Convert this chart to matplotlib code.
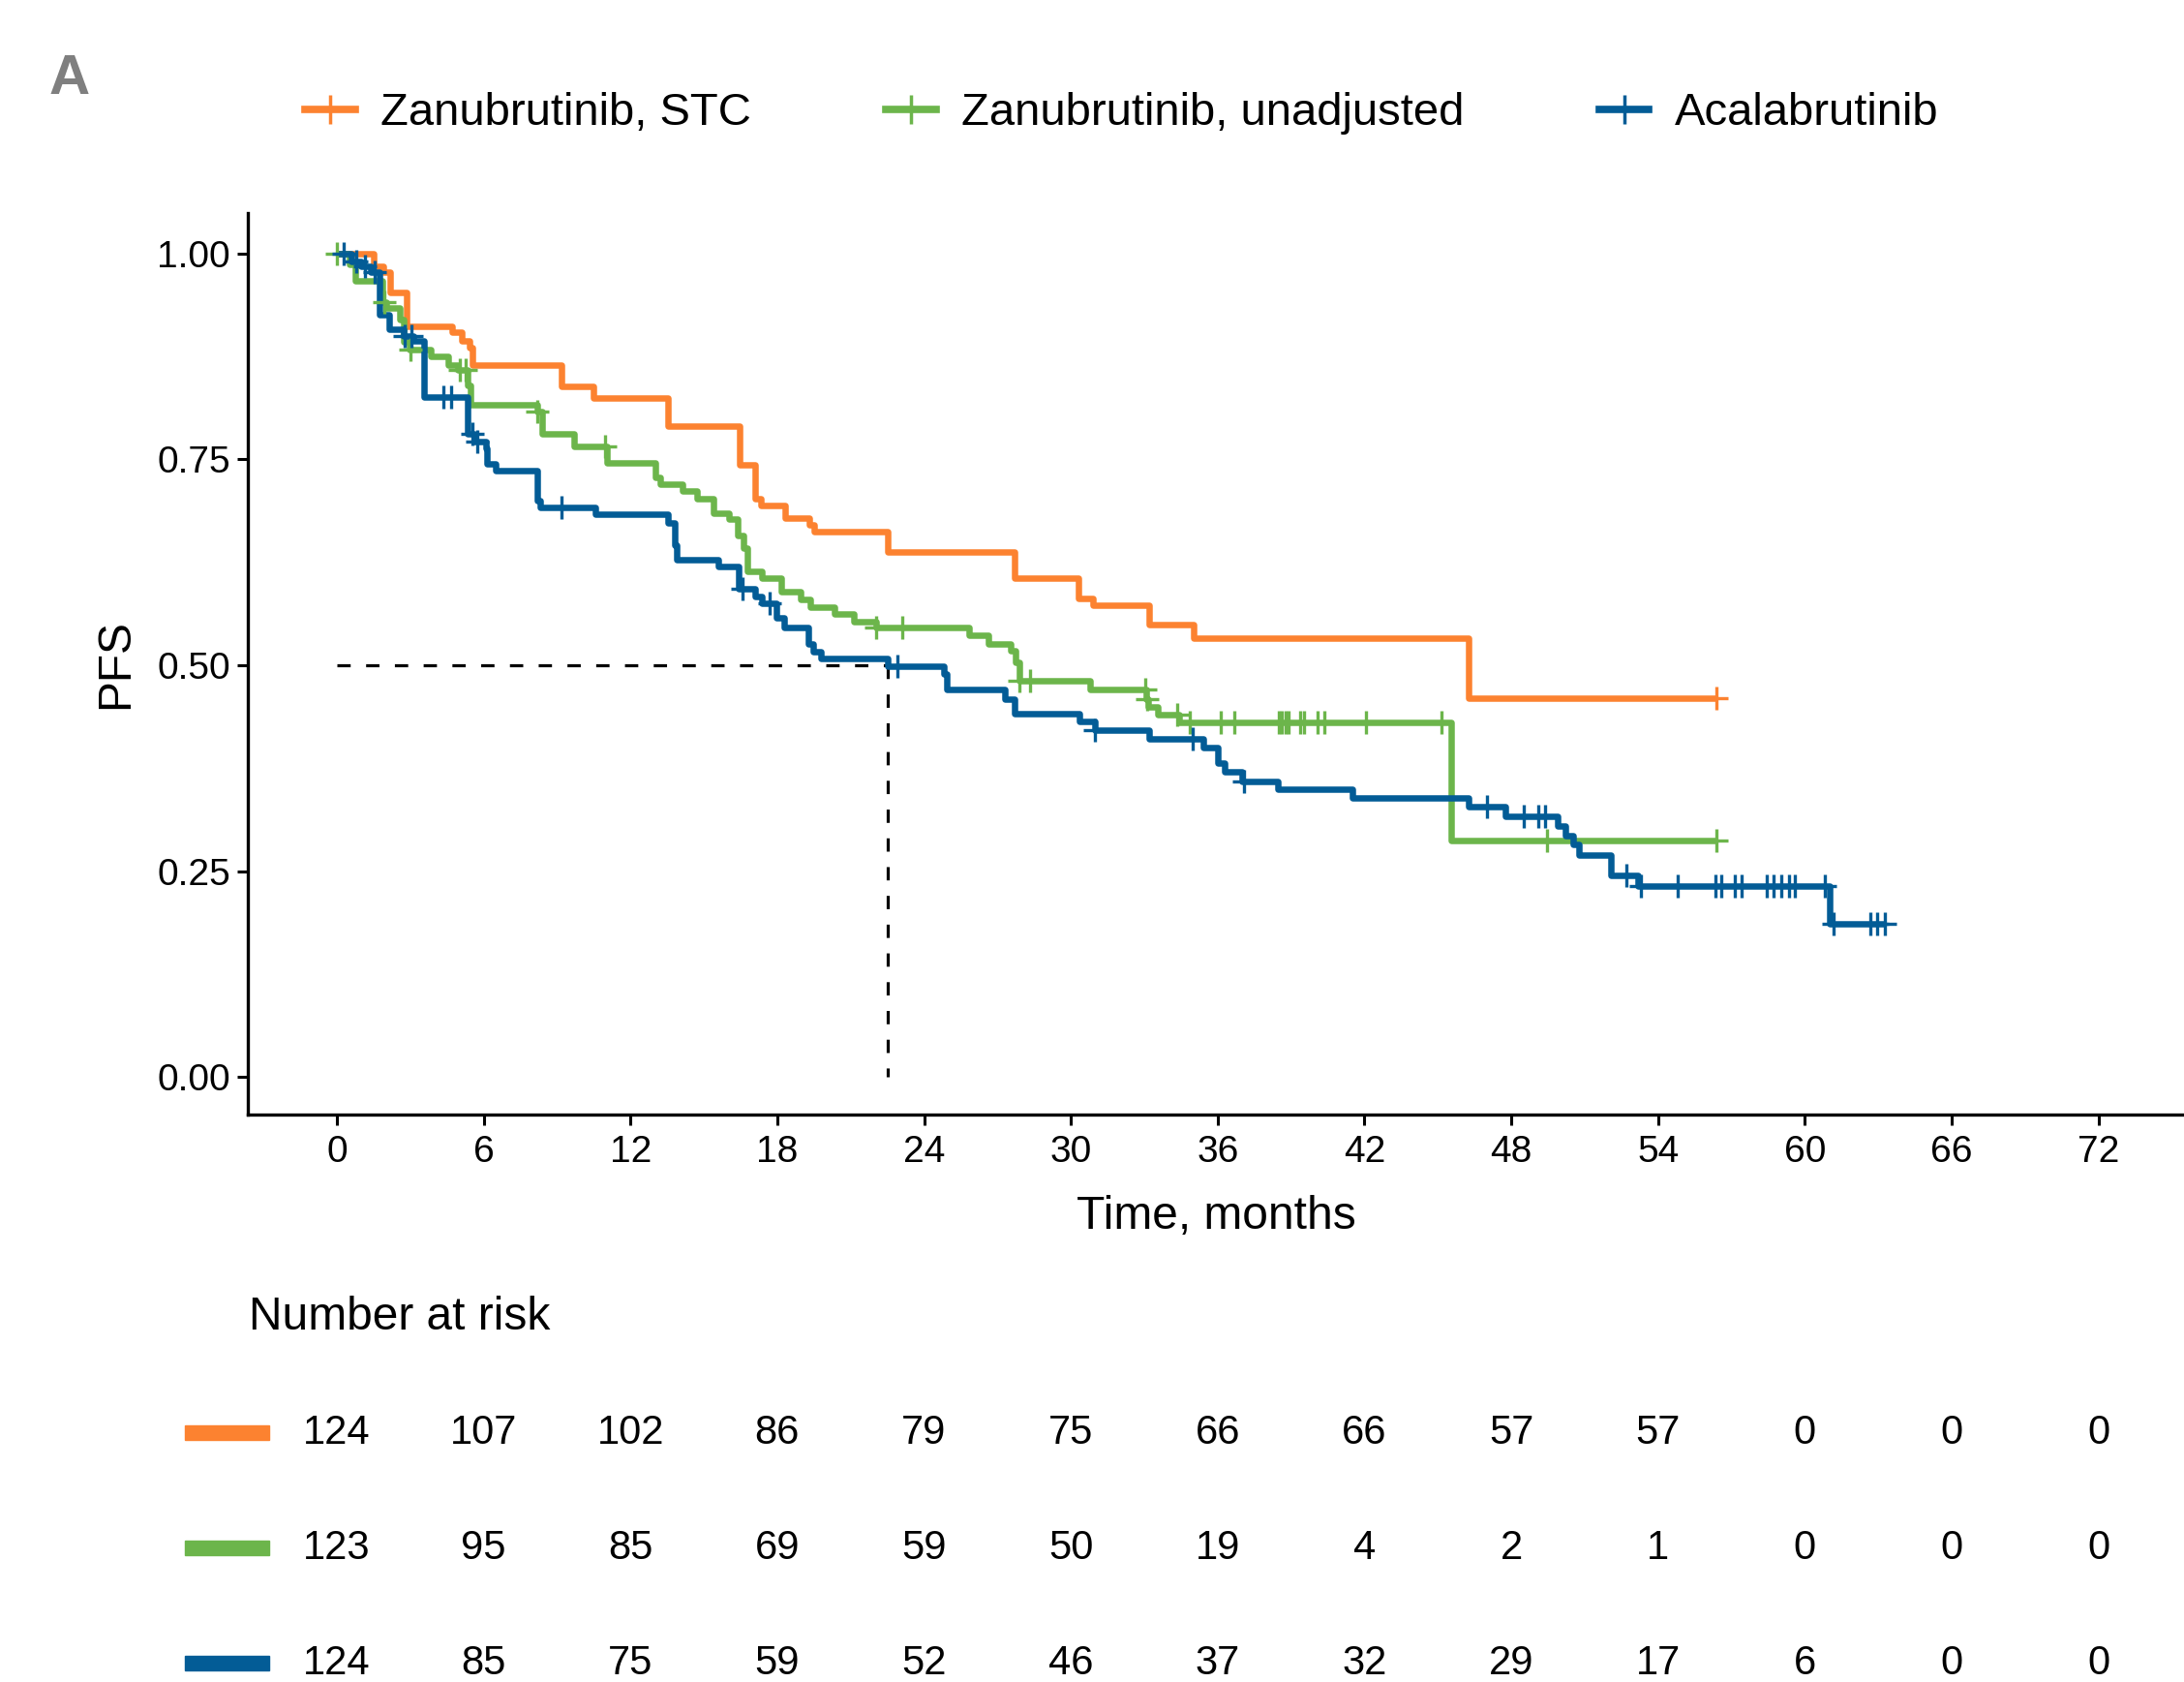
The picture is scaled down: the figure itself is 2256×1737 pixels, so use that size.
import matplotlib
matplotlib.use("Agg")
import matplotlib.pyplot as plt
import matplotlib.transforms as mtransforms
import numpy as np
from matplotlib.lines import Line2D
from matplotlib.patches import Rectangle

plt.rcParams["font.family"] = ["Liberation Sans", "DejaVu Sans"]

# Kaplan-Meier step data (months, survival after step)
stc_time = [0, 1.5, 1.9, 2.19, 2.85, 4.70, 5.09, 5.42, 5.55, 9.18, 10.5, 13.55,
            16.46, 17.1, 17.33, 18.3, 19.3, 19.5, 22.52, 27.7, 30.3, 30.9, 33.2,
            35.0, 46.25, 56.4]
stc_surv = [1.0, 0.985, 0.977, 0.953, 0.912, 0.904, 0.894, 0.886, 0.865, 0.839,
            0.824, 0.790, 0.743, 0.702, 0.694, 0.679, 0.670, 0.662, 0.638, 0.606,
            0.581, 0.573, 0.549, 0.533, 0.460, 0.460]
stc_censor = [56.4]

unadj_time = [0, 0.5, 0.74, 1.86, 2.0, 2.58, 2.72, 2.98, 3.84, 4.56, 4.96, 5.36,
              5.45, 8.19, 8.39, 9.71, 11.03, 13.0, 13.2, 14.13, 14.72, 15.38,
              16.04, 16.37, 16.63, 16.77, 17.36, 18.15, 18.94, 19.34, 20.33,
              21.12, 22.04, 25.84, 26.63, 27.55, 27.75, 27.88, 30.78, 33.09,
              33.16, 33.55, 34.41, 45.55, 56.4]
unadj_surv = [1.0, 0.987, 0.967, 0.941, 0.934, 0.920, 0.893, 0.883, 0.875, 0.865,
              0.859, 0.840, 0.816, 0.808, 0.781, 0.766, 0.746, 0.728, 0.720,
              0.712, 0.702, 0.685, 0.677, 0.657, 0.642, 0.614, 0.606, 0.589,
              0.580, 0.571, 0.562, 0.553, 0.546, 0.536, 0.526, 0.518, 0.504,
              0.481, 0.471, 0.459, 0.449, 0.440, 0.430, 0.287, 0.287]
unadj_censor = [0.0, 1.95, 3.0, 5.03, 5.25, 8.19, 10.96, 22.04, 23.1, 27.9, 28.34,
                33.03, 33.1, 34.34, 34.87, 36.12, 36.68, 38.52, 38.63, 38.76,
                38.89, 39.39, 39.52, 40.10, 40.37, 42.06, 45.13, 49.45, 56.4]

acala_time = [0, 0.6, 0.99, 1.39, 1.72, 2.12, 2.72, 3.11, 3.57, 5.36, 5.62, 6.08,
              6.15, 6.48, 8.19, 8.32, 10.57, 13.53, 13.8, 13.87, 15.58, 16.44,
              17.1, 17.36, 17.95, 18.28, 19.27, 19.47, 19.8, 22.5, 24.81, 24.93,
              27.32, 27.71, 30.35, 31.0, 33.19, 35.43, 36.02, 36.29, 37.0, 38.47,
              41.5, 46.25, 47.77, 49.9, 50.2, 50.55, 50.76, 52.08, 53.19, 61.03,
              63.29]
acala_surv = [1.0, 0.990, 0.985, 0.977, 0.926, 0.908, 0.900, 0.894, 0.826, 0.781,
              0.772, 0.763, 0.745, 0.7365, 0.700, 0.692, 0.683, 0.673, 0.646,
              0.628, 0.620, 0.593, 0.583, 0.575, 0.558, 0.546, 0.526, 0.516,
              0.508, 0.4985, 0.489, 0.471, 0.459, 0.4416, 0.432, 0.421, 0.411,
              0.400, 0.381, 0.371, 0.359, 0.3495, 0.339, 0.328, 0.317, 0.305,
              0.293, 0.282, 0.269, 0.245, 0.232, 0.186, 0.186]
acala_censor = [0.28, 0.79, 1.14, 1.53, 2.78, 3.05, 4.37, 4.67, 5.55, 5.75, 9.18,
                16.57, 17.69, 22.9, 31.0, 34.97, 37.08, 47.0, 48.5, 49.09, 49.37,
                52.7, 53.3, 54.82, 56.35, 56.59, 57.14, 57.42, 58.46, 58.74, 59.05,
                59.36, 59.6, 60.82, 61.17, 62.67, 62.97, 63.29]

median_time = 22.5

labels = ["Zanubrutinib, STC", "Zanubrutinib, unadjusted", "Acalabrutinib"]
colors = ["#FC8230", "#6CB54B", "#035C96"]

x_ticks = list(range(0, 73, 6))
y_ticks = [0.0, 0.25, 0.50, 0.75, 1.00]
y_tick_labels = ["0.00", "0.25", "0.50", "0.75", "1.00"]

risk_stc = [124, 107, 102, 86, 79, 75, 66, 66, 57, 57, 0, 0, 0]
risk_unadj = [123, 95, 85, 69, 59, 50, 19, 4, 2, 1, 0, 0, 0]
risk_acala = [124, 85, 75, 59, 52, 46, 37, 32, 29, 17, 6, 0, 0]


def censor_levels(times, surv, censor):
    times = np.asarray(times)
    surv = np.asarray(surv)
    idx = np.searchsorted(times, censor, side="right") - 1
    return surv[np.clip(idx, 0, len(surv) - 1)]


fig = plt.figure(figsize=(22.56, 17.37), dpi=100)
ax = fig.add_axes([0.1135, 0.3374, 0.8865, 0.5359])

# median reference lines
ax.plot([0, median_time], [0.5, 0.5], color="black", lw=2.3, dashes=(4.3, 5.0),
        zorder=1)
ax.plot([median_time, median_time], [0.5, 0.0], color="black", lw=2.3,
        dashes=(4.3, 5.0), zorder=1)

series = [
    (stc_time, stc_surv, stc_censor),
    (unadj_time, unadj_surv, unadj_censor),
    (acala_time, acala_surv, acala_censor),
]
for (times, surv, censor), color in zip(series, colors):
    ax.step(times, surv, where="post", color=color, lw=4.7,
            solid_joinstyle="round", solid_capstyle="butt", zorder=2)
    ax.plot(censor, censor_levels(times, surv, censor), linestyle="none",
            marker="+", ms=17, mew=2.4, color=color, zorder=3)

ax.set_xlim(-3.64, 75.5)
ax.set_ylim(-0.0456, 1.049)
ax.set_xticks(x_ticks)
ax.set_xticklabels([str(t) for t in x_ticks])
ax.set_yticks(y_ticks)
ax.set_yticklabels(y_tick_labels)
ax.tick_params(labelsize=28, length=8, width=2.2, colors="black")
ax.tick_params(axis="x", pad=7)
ax.tick_params(axis="y", pad=5)
for side in ("top", "right"):
    ax.spines[side].set_visible(False)
for side in ("left", "bottom"):
    ax.spines[side].set_linewidth(2.4)

ax.set_xlabel("Time, months", fontsize=34.5)
ax.xaxis.set_label_coords(0.5, -0.0895)
ax.set_ylabel("PFS", fontsize=34.5)
ax.yaxis.set_label_coords(-0.057, 0.5)

# legend across the top
handles = [Line2D([], [], color=c, lw=5.5, marker="+", ms=21, mew=2.5)
           for c in colors]
fig.legend(handles, labels, loc="center", bbox_to_anchor=(0.5135, 0.9325),
           ncol=3, frameon=False, fontsize=34, handlelength=1.1,
           handletextpad=0.55, columnspacing=2.95)

fig.text(0.0319, 0.9528, "A", fontsize=42, fontweight="bold", color="#7F7F7F",
         ha="center", va="center")

# number-at-risk table
fig.text(0.1139, 0.2168, "Number at risk", fontsize=34.5, ha="left",
         va="center")
blend = mtransforms.blended_transform_factory(ax.transData, fig.transFigure)
row_y = [0.1482, 0.0796, 0.0111]
for counts, color, y in zip([risk_stc, risk_unadj, risk_acala], colors, row_y):
    fig.patches.append(Rectangle((0.0847, y - 0.0042), 0.0385, 0.0084,
                                 transform=fig.transFigure, color=color,
                                 figure=fig))
    for t, n in zip(x_ticks, counts):
        fig.text(t, y, str(n), transform=blend, fontsize=30, ha="center",
                 va="center")

fig.savefig("out.png", dpi=100)
